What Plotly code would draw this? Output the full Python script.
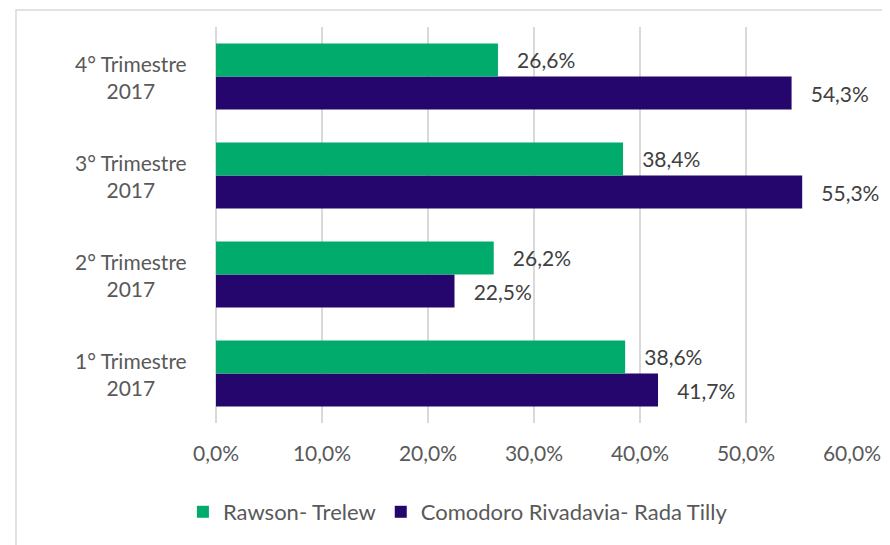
import plotly.graph_objects as go

categories = ["1° Trimestre 2017", "2° Trimestre 2017", "3° Trimestre 2017", "4° Trimestre 2017"]
cat_labels = ["1° Trimestre<br>2017", "2° Trimestre<br>2017", "3° Trimestre<br>2017", "4° Trimestre<br>2017"]
rawson = [38.6, 26.2, 38.4, 26.6]
comodoro = [41.7, 22.5, 55.3, 54.3]
tick_vals = [0, 10, 20, 30, 40, 50, 60]

GREEN = "#00AB6B"
PURPLE = "#25066D"
FONT = "Lato, 'Open Sans', sans-serif"
TXT = "#595959"
NB = "\u00a0"

def fmt(v):
    return f"{v:.1f}%".replace(".", ",")

fig = go.Figure()
fig.add_trace(go.Bar(
    y=categories, x=comodoro, orientation="h", name="Comodoro Rivadavia- Rada Tilly",
    marker=dict(color=PURPLE, line=dict(width=0)),
    text=[NB * 3 + fmt(v) for v in comodoro], textposition="outside",
    textfont=dict(size=21, color="#404040", family=FONT), cliponaxis=False,
))
fig.add_trace(go.Bar(
    y=categories, x=rawson, orientation="h", name="Rawson- Trelew",
    marker=dict(color=GREEN, line=dict(width=0)),
    text=[NB * 3 + fmt(v) for v in rawson], textposition="outside",
    textfont=dict(size=21, color="#404040", family=FONT), cliponaxis=False,
))

for c, lab in zip(categories, cat_labels):
    fig.add_annotation(x=-0.1335, xref="paper", y=c, yref="y", text=lab,
                       showarrow=False, xanchor="center", yanchor="middle", align="center",
                       font=dict(size=21, color=TXT, family=FONT))

fig.add_shape(type="rect", xref="paper", yref="paper",
              x0=-0.3145, x1=1.3, y0=-0.6, y1=1.0429,
              line=dict(color="#D9D9D9", width=1.5), fillcolor="rgba(0,0,0,0)", layer="below")

fig.update_layout(
    width=890, height=545,
    margin=dict(l=208, r=46, t=19, b=130),
    paper_bgcolor="white", plot_bgcolor="white",
    barmode="group", bargap=0.333, bargroupgap=0,
    font=dict(family=FONT, size=21, color=TXT),
    xaxis=dict(range=[0, 60], tickmode="array", tickvals=tick_vals,
               ticktext=[fmt(v) for v in tick_vals],
               showgrid=True, gridcolor="#D9D9D9", gridwidth=1.5,
               zeroline=True, zerolinecolor="#D9D9D9", zerolinewidth=1.5,
               showline=False, ticks="outside", ticklen=12, tickcolor="rgba(0,0,0,0)",
               tickfont=dict(size=21, color=TXT, family=FONT), fixedrange=True),
    yaxis=dict(categoryorder="array", categoryarray=categories, showticklabels=False,
               showgrid=False, zeroline=False, showline=False, fixedrange=True),
    legend=dict(orientation="h", traceorder="reversed", x=-0.052, xanchor="left",
                y=-0.2247, yanchor="middle", font=dict(size=22, color=TXT, family=FONT),
                itemwidth=30, bgcolor="rgba(0,0,0,0)"),
    showlegend=True,
)

fig.write_html("out.html")
